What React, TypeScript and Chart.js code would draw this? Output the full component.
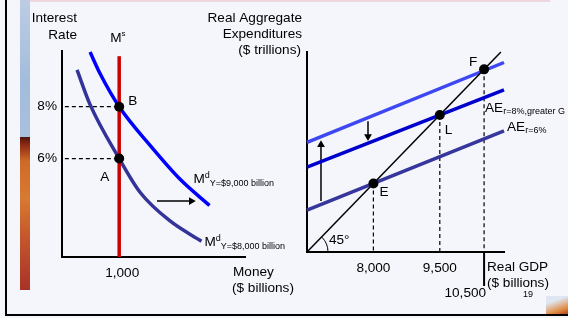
import React, { useEffect, useRef } from 'react';
import { Chart, registerables } from 'chart.js';

Chart.register(...registerables);

const FONT = "'Liberation Sans', Arial, Helvetica, sans-serif";
const FS = 13.6;

// ---------- Left panel: money market ----------
const moneyTicks = [1000];
const rateTicks = [6, 8];
const moneySupply = 1000;
const moneySupplyRate = [2.2, 9.95];
const mdY8000Money = [263, 491, 1000, 1368, 1895, 2439];
const mdY8000Rate = [9.42, 8.08, 6.0, 4.69, 3.58, 2.81];
const mdY9000Money = [491, 667, 1000, 1544, 2070, 2579];
const mdY9000Rate = [10.11, 9.27, 8.0, 6.5, 5.19, 4.19];
const eqRates = [6, 8]; // A, B
const eqGuideStart = 50;
const mdShiftMoney = [1661, 2260];
const mdShiftRate = 4.36;

// ---------- Right panel: aggregate expenditures ----------
const gdpTicks = [8000, 9500];
const gdpFarTick = 10500;
const gdpEq = [8000, 9500, 10500]; // E, L, F
const aeEndsGdp = [6500, 10950];
const aeR6 = [7415, 9150];
const aeR8 = [8360, 10050];
const aeR8G = [8900, 10650];
const line45 = [6500, 10880];
const upArrowGdp = 6816;
const upArrowAE = [7616, 8850];
const downArrowGdp = 7878;
const downArrowAE = [9366, 9030];

type Seg = { t: string; s: number; dy?: number };

function rich(ctx: CanvasRenderingContext2D, segs: Seg[], x: number, y: number) {
  let cx = x;
  ctx.textAlign = 'left';
  ctx.textBaseline = 'middle';
  for (const g of segs) {
    ctx.font = `${g.s}px ${FONT}`;
    ctx.fillText(g.t, cx, y + (g.dy || 0));
    cx += ctx.measureText(g.t).width;
  }
}

function text(ctx: CanvasRenderingContext2D, t: string, x: number, y: number, align: CanvasTextAlign = 'left', size = FS) {
  ctx.font = `${size}px ${FONT}`;
  ctx.textAlign = align;
  ctx.textBaseline = 'middle';
  ctx.fillText(t, x, y);
}

const lineDs = (data: { x: number; y: number }[], color: string, width: number, extra: any = {}) => ({
  data,
  borderColor: color,
  backgroundColor: color,
  borderWidth: width,
  pointRadius: 0,
  fill: false,
  clip: false as any,
  ...extra,
});

const axisScale = (min: number, max: number, ticks: number[], fmt: (v: number) => string, size: number, pad: number, show: boolean, labelOffset = 0) => ({
  type: 'linear' as const,
  min,
  max,
  grid: { display: false, drawTicks: false },
  border: { display: true, color: '#000', width: 2 },
  ticks: {
    display: show,
    color: '#000',
    font: { family: FONT, size: FS },
    padding: pad,
    autoSkip: false,
    maxRotation: 0,
    labelOffset,
    callback: (v: any) => fmt(Number(v)),
  },
  afterBuildTicks: (s: any) => {
    s.ticks = ticks.map((v) => ({ value: v }));
  },
  afterFit: (s: any) => {
    if (s.isHorizontal()) s.height = size;
    else s.width = size;
  },
});

export default function App() {
  const leftRef = useRef<HTMLCanvasElement>(null);
  const rightRef = useRef<HTMLCanvasElement>(null);

  useEffect(() => {
    document.body.style.margin = '0';
    const leftLabels = {
      id: 'leftLabels',
      afterDatasetsDraw(chart: any) {
        const ctx = chart.ctx as CanvasRenderingContext2D;
        const a = chart.chartArea;
        const X = chart.scales.x, Y = chart.scales.y;
        const px = (v: number) => X.getPixelForValue(v);
        const py = (v: number) => Y.getPixelForValue(v);
        ctx.save();
        ctx.fillStyle = '#000';
        text(ctx, 'Interest', a.left + 15, 18, 'right');
        text(ctx, 'Rate', a.left + 15, 35, 'right');
        rich(ctx, [{ t: 'M', s: FS }, { t: 's', s: 8, dy: -4 }], px(moneySupply) - 9, 38);
        text(ctx, 'B', px(moneySupply) + 9, py(eqRates[1]) - 5);
        text(ctx, 'A', px(moneySupply) - 19, py(eqRates[0]) + 19);
        const e9 = mdY9000Money.length - 1;
        rich(ctx, [{ t: 'M', s: FS }, { t: 'd', s: 9, dy: -4 }, { t: 'Y=$9,000 billion', s: 9, dy: 4 }],
          px(mdY9000Money[e9]) - 16, py(mdY9000Rate[e9]) - 26);
        const e8 = mdY8000Money.length - 1;
        rich(ctx, [{ t: 'M', s: FS }, { t: 'd', s: 9, dy: -4 }, { t: 'Y=$8,000 billion', s: 9, dy: 4 }],
          px(mdY8000Money[e8]) + 3, py(mdY8000Rate[e8]) + 1);
        text(ctx, 'Money', a.right - 12, 272);
        text(ctx, '($ billions)', a.right - 13, 288);
        ctx.restore();
      },
    };

    const rightLabels = {
      id: 'rightLabels',
      afterDatasetsDraw(chart: any) {
        const ctx = chart.ctx as CanvasRenderingContext2D;
        const a = chart.chartArea;
        const X = chart.scales.x, Y = chart.scales.y;
        const px = (v: number) => X.getPixelForValue(v);
        const py = (v: number) => Y.getPixelForValue(v);
        ctx.save();
        ctx.fillStyle = '#000';
        ctx.strokeStyle = '#000';
        text(ctx, 'Real Aggregate', a.left - 5, 18, 'right');
        text(ctx, 'Expenditures', a.left - 5, 34, 'right');
        text(ctx, '($ trillions)', a.left - 6, 50, 'right');
        text(ctx, 'E', px(gdpEq[0]) + 6, py(gdpEq[0]) + 9);
        text(ctx, 'L', px(gdpEq[1]) + 5, py(gdpEq[1]) + 15);
        text(ctx, 'F', px(gdpEq[2]) - 15, py(gdpEq[2]) - 7);
        rich(ctx, [{ t: 'AE', s: FS }, { t: 'r=8%,greater G', s: 9, dy: 4 }], a.right - 19, 108);
        rich(ctx, [{ t: 'AE', s: FS }, { t: 'r=6%', s: 9, dy: 4 }], a.right + 3, py(aeR6[1]) - 4);
        // 45 degree marker
        text(ctx, '45°', a.left + 22, a.bottom - 12);
        ctx.lineWidth = 1;
        ctx.beginPath();
        ctx.arc(a.left, a.bottom, 21, -Math.PI / 4, 0);
        ctx.stroke();
        // long tick for 10,500
        ctx.lineWidth = 2;
        ctx.beginPath();
        ctx.moveTo(px(gdpFarTick), a.bottom);
        ctx.lineTo(px(gdpFarTick), a.bottom + 34);
        ctx.stroke();
        text(ctx, gdpFarTick.toLocaleString('en-US'), px(gdpFarTick) + 2, a.bottom + 41, 'right');
        text(ctx, 'Real GDP', a.right - 17, 267);
        text(ctx, '($ billions)', a.right - 17, 283);
        text(ctx, '19', a.right + 24, 295, 'center', 9);
        ctx.restore();
      },
    };

    const black = '#000';
    const left = new Chart(leftRef.current!, {
      type: 'line',
      data: {
        datasets: [
          lineDs(eqRates.map((r) => ({ x: moneySupply, y: r })), black, 0, { showLine: false, pointRadius: 5, pointBackgroundColor: black, pointBorderWidth: 0 }),
          lineDs([{ x: moneySupply, y: moneySupplyRate[0] }, { x: moneySupply, y: moneySupplyRate[1] }], '#cc0000', 3.5),
          lineDs(mdY9000Money.map((m, i) => ({ x: m, y: mdY9000Rate[i] })), '#0000ff', 3.5, { cubicInterpolationMode: 'monotone' }),
          lineDs(mdY8000Money.map((m, i) => ({ x: m, y: mdY8000Rate[i] })), '#333399', 3.5, { cubicInterpolationMode: 'monotone' }),
          lineDs([{ x: mdShiftMoney[0], y: mdShiftRate }, { x: mdShiftMoney[1], y: mdShiftRate }], black, 1.5,
            { pointRadius: [0, 4.5], pointStyle: 'triangle', rotation: 90, pointBackgroundColor: black, pointBorderWidth: 0 }),
          ...eqRates.map((r) => lineDs([{ x: eqGuideStart, y: r }, { x: moneySupply, y: r }], black, 1.2, { borderDash: [4, 3] })),
        ],
      },
      options: {
        animation: false,
        responsive: false,
        events: [],
        layout: { padding: { left: 32, right: 55, top: 51, bottom: 31 } },
        plugins: { legend: { display: false }, tooltip: { enabled: false } },
        scales: {
          x: axisScale(0, 3200, moneyTicks, (v) => v.toLocaleString('en-US'), 30, 8, true, 3),
          y: axisScale(2.2, 10.15, rateTicks, (v) => `${v}%`, 30, 5, true),
        },
      } as any,
      plugins: [leftLabels],
    });

    const right = new Chart(rightRef.current!, {
      type: 'line',
      data: {
        datasets: [
          lineDs(gdpEq.map((g) => ({ x: g, y: g })), black, 0, { showLine: false, pointRadius: 5, pointBackgroundColor: black, pointBorderWidth: 0 }),
          lineDs([{ x: line45[0], y: line45[0] }, { x: line45[1], y: line45[1] }], black, 1.5),
          lineDs(aeEndsGdp.map((g, i) => ({ x: g, y: aeR8G[i] })), '#3d47f2', 3.5),
          lineDs(aeEndsGdp.map((g, i) => ({ x: g, y: aeR8[i] })), '#0000cc', 3.5),
          lineDs(aeEndsGdp.map((g, i) => ({ x: g, y: aeR6[i] })), '#36369c', 3.5),
          lineDs([{ x: upArrowGdp, y: upArrowAE[0] }, { x: upArrowGdp, y: upArrowAE[1] }], black, 1.5,
            { pointRadius: [0, 4.5], pointStyle: 'triangle', rotation: 0, pointBackgroundColor: black, pointBorderWidth: 0 }),
          lineDs([{ x: downArrowGdp, y: downArrowAE[0] }, { x: downArrowGdp, y: downArrowAE[1] }], black, 1.5,
            { pointRadius: [0, 4.5], pointStyle: 'triangle', rotation: 180, pointBackgroundColor: black, pointBorderWidth: 0 }),
          ...gdpEq.map((g) => lineDs([{ x: g, y: g }, { x: g, y: aeEndsGdp[0] }], black, 1.2, { borderDash: [4, 3] })),
        ],
      },
      options: {
        animation: false,
        responsive: false,
        events: [],
        layout: { padding: { left: 82, right: 64, top: 52, bottom: 36 } },
        plugins: { legend: { display: false }, tooltip: { enabled: false } },
        scales: {
          x: axisScale(aeEndsGdp[0], aeEndsGdp[1], gdpTicks, (v) => v.toLocaleString('en-US'), 30, 8, true),
          y: axisScale(6500, 10880, [], (v) => String(v), 30, 5, false),
        },
      } as any,
      plugins: [rightLabels],
    });

    return () => {
      left.destroy();
      right.destroy();
    };
  }, []);

  const abs = (s: React.CSSProperties): React.CSSProperties => ({ position: 'absolute', ...s });

  return (
    <div style={{ position: 'relative', width: 568, height: 318, background: '#f4f6fc', overflow: 'hidden' }}>
      <div style={abs({ left: 30, top: 0, width: 520, height: 2, background: '#efd5de' })} />
      <div style={abs({ left: 20, top: 0, width: 10, height: 137, background: 'linear-gradient(#bccde3, #a3bcdb 60%, #a9c0dd)' })} />
      <div style={abs({ left: 20, top: 137, width: 10, height: 153, background: 'linear-gradient(#4f120c 0%, #8c2a12 5%, #cf6a28 16%, #d77a32 40%, #c4582c 65%, #a83228 100%)' })} />
      <div style={abs({ left: 5, top: 0, width: 2, height: 316, background: '#000' })} />
      <div style={abs({ left: 5, top: 314, width: 563, height: 2, background: '#000' })} />
      <div style={abs({ left: 546, top: 296, width: 22, height: 18, background: 'linear-gradient(160deg, #dfe6f2 30%, #e08a40 75%, #b04020)' })} />
      <canvas ref={leftRef} width={300} height={318} style={abs({ left: 0, top: 0, width: 300, height: 318 })} />
      <canvas ref={rightRef} width={373} height={318} style={abs({ left: 195, top: 0, width: 373, height: 318 })} />
    </div>
  );
}
